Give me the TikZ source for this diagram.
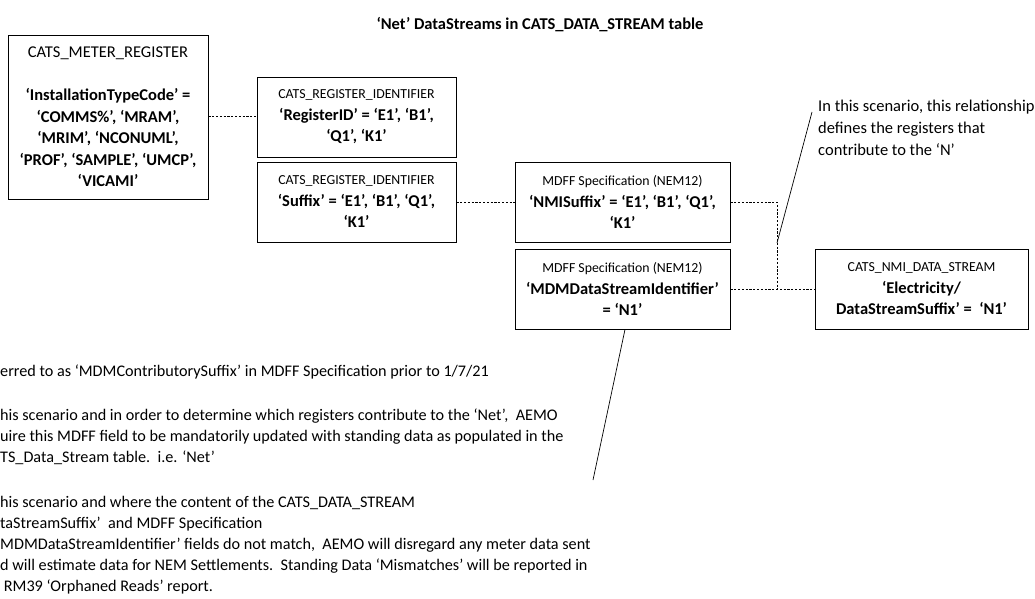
\documentclass[tikz,border=0pt]{standalone}
\usepackage{fontspec}
\setmainfont{Carlito}
\begin{document}
\begin{tikzpicture}[x=1pt,y=-1pt,
  box/.style={draw,line width=0.9pt,align=center,inner sep=0pt,
    font=\fontsize{16.5}{21.5}\selectfont},
  dotline/.style={line width=1pt,dash pattern=on 2.2pt off 1.6pt},
  thin/.style={line width=0.7pt},
  note/.style={align=left,inner sep=0pt,font=\fontsize{16.2}{21}\selectfont}]
\newcommand\hdr[1]{{\fontsize{13.8}{21.5}\selectfont #1}}
\useasboundingbox (0,0) rectangle (1035,599);
\node[inner sep=0pt,font=\bfseries\fontsize{16.5}{20}\selectfont] (title) at (540,25) {‘Net’ DataStreams in CATS\_DATA\_STREAM table};
\node[box,minimum width=200pt,minimum height=164pt] (mr) at (108,117)
 {CATS\_METER\_REGISTER\\[21.5pt]\bfseries ‘InstallationTypeCode’ =\\\bfseries ‘COMMS\%’, ‘MRAM’,\\\bfseries ‘MRIM’, ‘NCONUML’,\\\bfseries ‘PROF’, ‘SAMPLE’, ‘UMCP’,\\\bfseries ‘VICAMI’};
\node[box,minimum width=199pt,minimum height=80pt] (rid1) at (356.5,117)
 {\hdr{CATS\_REGISTER\_IDENTIFIER}\\\bfseries ‘RegisterID’ = ‘E1’, ‘B1’,\\\bfseries ‘Q1’, ‘K1’};
\node[box,minimum width=199pt,minimum height=80pt] (rid2) at (356.5,202)
 {\hdr{CATS\_REGISTER\_IDENTIFIER}\\\bfseries ‘Suffix’ = ‘E1’, ‘B1’, ‘Q1’,\\\bfseries ‘K1’};
\node[box,minimum width=215pt,minimum height=80pt] (nmis) at (622.5,202)
 {\hdr{MDFF Specification (NEM12)}\\\bfseries ‘NMISuffix’ = ‘E1’, ‘B1’, ‘Q1’,\\\bfseries ‘K1’};
\node[box,minimum width=215pt,minimum height=80pt] (mdm) at (622.5,289)
 {\hdr{MDFF Specification (NEM12)}\\\bfseries ‘MDMDataStreamIdentifier’\\\bfseries = ‘N1’};
\node[box,minimum width=213pt,minimum height=80pt] (nds) at (921.5,289)
 {\hdr{CATS\_NMI\_DATA\_STREAM}\\\bfseries ‘Electricity/\\\bfseries DataStreamSuffix’ =\ \ ‘N1’};
\coordinate (jn) at (777,289);
\draw[dotline] (mr) -- (rid1);
\draw[dotline] (rid2) -- (nmis);
\draw[dotline] (nmis.east) -| (jn);
\draw[dotline] (mdm) -- (nds);
\coordinate (a1) at (777,243);
\coordinate (a2) at (812,112);
\draw[thin] (a1) -- (a2);
\node[note,anchor=north west,font=\fontsize{16.5}{22}\selectfont] (ann) at (818,100)
 {In this scenario, this relationship\\defines the registers that\\contribute to the ‘N’};
\coordinate (n2) at (593,480);
\draw[thin] ([xshift=2.5pt]mdm.south) -- (n2);
\node[note,anchor=north west] (bt) at (0,365)
 {erred to as ‘MDMContributorySuffix’ in MDFF Specification prior to 1/7/21\\[23pt]
 his scenario and in order to determine which registers contribute to the ‘Net’,\ \ AEMO\\
 uire this MDFF field to be mandatorily updated with standing data as populated in the\\
 TS\_Data\_Stream table.\ \ i.e. ‘Net’\\[24pt]
 his scenario and where the content of the CATS\_DATA\_STREAM\\
 taStreamSuffix’\ \ and MDFF Specification\\
 MDMDataStreamIdentifier’ fields do not match,\ \ AEMO will disregard any meter data sent\\
 d will estimate data for NEM Settlements.\ \ Standing Data ‘Mismatches’ will be reported in\\
 \ RM39 ‘Orphaned Reads’ report.};
\end{tikzpicture}
\end{document}
